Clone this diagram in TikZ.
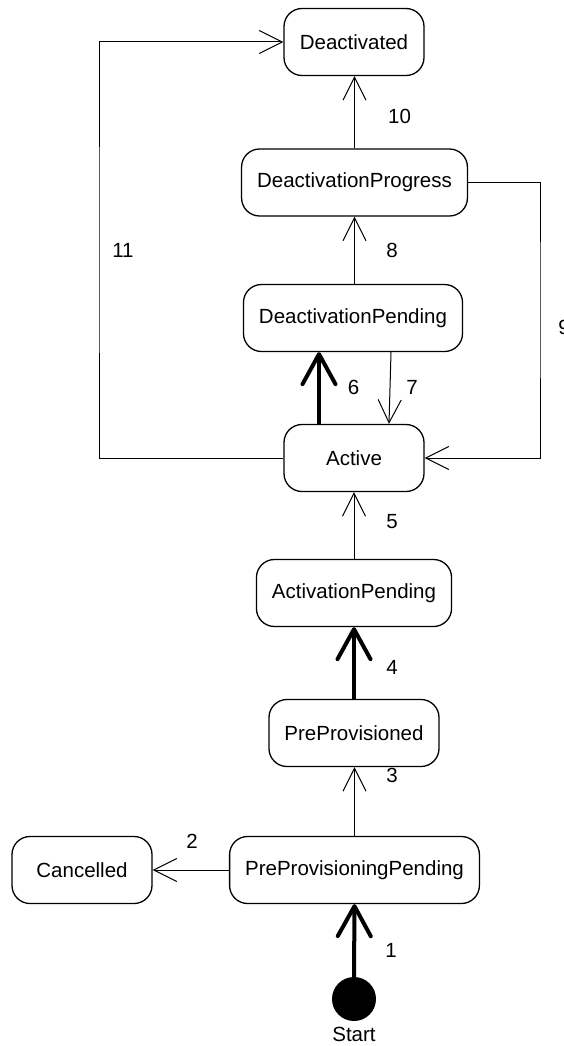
\documentclass[tikz,border=0pt]{standalone}
\usepackage{fontspec}
\setmainfont{Liberation Sans}
\usetikzlibrary{arrows.meta}
\begin{document}
\begin{tikzpicture}[x=1pt,y=-1pt,
  font=\fontsize{20.5}{24}\selectfont,
  state/.style={draw,line width=1.3pt,rounded corners=18pt,minimum height=67pt,
    minimum width=140pt,inner xsep=15.5pt},
  trans/.style={line width=1pt,-{Straight Barb[length=23pt,width=23pt,line width=1pt]}},
  strong/.style={line width=4pt,-{Straight Barb[length=30pt,width=33pt,line width=4pt,round]}},
  lbl/.style={inner sep=0pt}]
\useasboundingbox (0,0) rectangle (564,1046);

% states
\node[state] (deact)  at (354,42)  {Deactivated};
\node[state] (dprog)  at (354.5,182.5) {DeactivationProgress};
\node[state] (dpend)  at (353,318) {DeactivationPending};
\node[state] (active) at (354,458) {Active};
\node[state] (apend)  at (354,593) {ActivationPending};
\node[state] (prep)   at (354,733) {PreProvisioned};
\node[state] (ppp)    at (354.5,870) {PreProvisioningPending};
\node[state] (canc)   at (82,870)  {Cancelled};
\node[circle,fill=black,minimum size=44pt,inner sep=0pt] (start) at (354,999) {};
\node[lbl] (startlbl) at (354,1034) {Start};

% bend points of the long transitions
\coordinate (r9) at (540,300);
\coordinate (l11) at (99,250);

% transitions
\draw[strong] (start.north) -- (ppp.south);
\draw[trans] (ppp.west) -- (canc.east);
\draw[trans] (ppp.north) -- (ppp.north |- prep.south);
\draw[strong] (prep.north) -- (prep.north |- apend.south);
\draw[trans] (apend.north) -- (apend.north |- active.south);
\draw[strong] ([xshift=-35pt]active.north) -- ([xshift=-35pt]active.north |- dpend.south);
\draw[trans] ([xshift=38pt]dpend.south) -- ([xshift=35pt]active.north);
\draw[trans] (dpend.north -| dprog.south) -- (dprog.south);
\draw[trans] (dprog.east) -| (r9) |- (active.east);
\draw[trans] (dprog.north) -- (dprog.north |- deact.south);
\draw[trans] (active.west) -| (l11) |- (deact.west);

% transition numbers
\node[lbl] (n1)  at (391,950) {1};
\node[lbl] (n2)  at (192,841) {2};
\node[lbl] (n3)  at (392,775) {3};
\node[lbl] (n4)  at (392,667) {4};
\node[lbl] (n5)  at (392,522) {5};
\node[lbl] (n6)  at (353.5,387) {6};
\node[lbl] (n7)  at (412,387) {7};
\node[lbl] (n8)  at (392,250) {8};
\node[lbl] (n9)  at (564,327) {9};
\node[lbl] (n10) at (399.5,116) {10};
\node[lbl] (n11) at (123,250) {11};
\end{tikzpicture}
\end{document}
